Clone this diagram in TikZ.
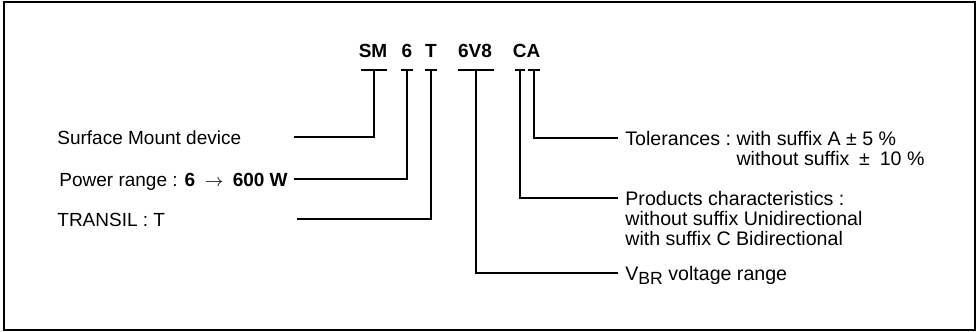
\documentclass[tikz,border=0pt]{standalone}
\usepackage{fontspec}
\usepackage{tikz}
\usetikzlibrary{positioning}
\newfontfamily\lsf{Liberation Sans}

\tikzset{
  codetext/.style={font=\lsf\bfseries\fontsize{9.5}{10}\selectfont, anchor=base, inner sep=0pt},
  lab/.style={font=\lsf\fontsize{9.5}{10}\selectfont, anchor=base west, inner sep=0pt},
  rlab/.style={lab, font=\lsf\fontsize{9.8}{10}\selectfont},
  lead/.style={line width=0.75pt, line cap=rect}
}

\begin{document}
\begin{tikzpicture}[x=0.5pt, y=-0.5pt]
  \useasboundingbox (0,0) rectangle (980,332);
  % ── Frame ───────────────────────────────────────────────────────────────
  \draw[line width=0.8pt] (4,2) rectangle (975,330);

  % ── Type code ───────────────────────────────────────────────────────────
  \foreach \x/\nm/\code in {373/sm/SM, 407/six/6, 431/tee/T, 475/vbr/6V8, 526.5/ca/CA}{
    \node[codetext] (\nm) at (\x,57) {\code};
  }

  % ── Tees and leaders (stem x, half bar, leader y, free end x) ───────────
  \foreach \nm/\x/\w/\y/\ex in {sm/374/12/137/295, six/407/5/179/295,
      tee/431/5.5/219/298, vbr/476/17/273/617, cc/520/4/198/617, aa/534/5/138/617}{
    \coordinate (\nm top) at (\x,70);
    \coordinate (\nm end) at (\ex,\y);
    \draw[lead] (\x-\w,70) -- (\x+\w,70);
    \draw[lead] (\nm top) |- (\nm end);
  }

  % ── Left labels ─────────────────────────────────────────────────────────
  \node[lab] (smlab)  at (57,144) {Surface Mount device};
  \node[lab] (powlab) at (59,186)
    {Power range : \textbf{6}\enspace$\rightarrow$\enspace\textbf{600 W}};
  \node[lab] (trlab)  at (57,226) {TRANSIL : T};

  % ── Right labels ────────────────────────────────────────────────────────
  \node[rlab] (tollab) at (625,145) {\begin{tabular}[t]{@{}l@{\ }l@{}}
      Tolerances : & with suffix A ± 5 \%\\
                   & without suffix\enspace ±\enspace 10 \%\end{tabular}};
  \node[rlab] (prodlab) at (625,205) {\begin{tabular}[t]{@{}l@{}}
      Products characteristics :\\
      without suffix Unidirectional\\
      with suffix C Bidirectional\end{tabular}};
  \node[rlab] (vbrlab) at (625,280) {V\raisebox{-0.45ex}{\fontsize{8.8}{10}\selectfont BR} voltage range};
\end{tikzpicture}
\end{document}
